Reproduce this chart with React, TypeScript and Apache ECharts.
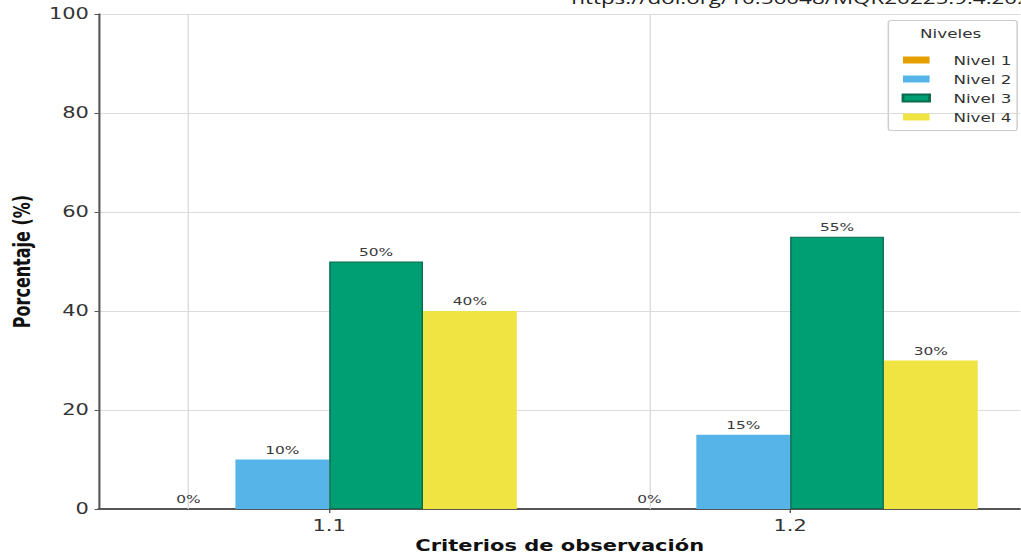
import React, { useEffect, useRef } from "react";
import * as echarts from "echarts";

const categories = ["1.1", "1.2"];
const levelNames = ["Nivel 1", "Nivel 2", "Nivel 3", "Nivel 4"];
const nivel1 = [0, 0];
const nivel2 = [10, 15];
const nivel3 = [50, 55];
const nivel4 = [40, 30];
const seriesValues = [nivel1, nivel2, nivel3, nivel4];
const colors = ["#E69F00", "#56B4E9", "#009E73", "#F0E442"];
const borderColors = ["#E69F00", "#56B4E9", "#0b6b4d", "#F0E442"];
const yTicks = { min: 0, max: 100, interval: 20 };

const FONT = "DejaVu Sans";
// the reference is stretched horizontally; draw in a narrower box and stretch it
const STRETCH = 1.4;
const W = 729;
const H = 558;

export default function App() {
  const ref = useRef<HTMLDivElement>(null);
  useEffect(() => {
    document.body.style.margin = "0";
    if (!ref.current) return;
    const chart = echarts.init(ref.current, undefined, { renderer: "svg" });
    const series: any[] = seriesValues.map((vals, i) => ({
      name: levelNames[i],
      type: "bar",
      data: vals,
      barWidth: 67,
      barGap: "0%",
      itemStyle: { color: colors[i], borderColor: borderColors[i], borderWidth: i === 2 ? 1 : 0 },
      label: {
        show: true,
        position: "top",
        distance: 4,
        formatter: "{c}%",
        fontFamily: FONT,
        fontSize: 11,
        color: "#3a3a3a",
      },
      z: 3,
    }));
    series[0].markLine = {
      silent: true,
      symbol: "none",
      label: { show: false },
      lineStyle: { color: "#dcdcdc", width: 1, type: "solid" },
      data: categories.map((c) => ({ xAxis: c })),
      z: 1,
    };
    chart.setOption({
      animation: false,
      backgroundColor: "#ffffff",
      grid: { left: 65.5, top: 14, width: 668, height: 499, containLabel: false },
      xAxis: {
        type: "category",
        data: categories,
        name: "Criterios de observación",
        nameLocation: "middle",
        nameGap: 26,
        nameTextStyle: { fontFamily: FONT, fontSize: 15, fontWeight: "bold", color: "#111" },
        axisLine: { show: true, lineStyle: { color: "#555", width: 2 } },
        axisTick: { show: true, alignWithLabel: true, length: 4, lineStyle: { color: "#555" } },
        axisLabel: { fontFamily: FONT, fontSize: 15, color: "#333", margin: 9 },
        splitLine: { show: false },
      },
      yAxis: {
        type: "value",
        min: yTicks.min,
        max: yTicks.max,
        interval: yTicks.interval,
        name: "Porcentaje (%)",
        nameLocation: "middle",
        nameGap: 43,
        nameTextStyle: { fontFamily: FONT, fontSize: 16, fontWeight: "bold", color: "#111" },
        axisLine: { show: true, lineStyle: { color: "#555", width: 1.5 } },
        axisTick: { show: true, length: 3, lineStyle: { color: "#555" } },
        axisLabel: { fontFamily: FONT, fontSize: 15, color: "#333", margin: 7 },
        splitLine: { show: true, lineStyle: { color: "#dcdcdc", width: 1 } },
      },
      legend: {
        data: levelNames,
        orient: "vertical",
        left: 639,
        top: 49,
        itemWidth: 19,
        itemHeight: 7,
        itemGap: 7,
        icon: "rect",
        textStyle: { fontFamily: FONT, fontSize: 12, color: "#333", padding: [0, 0, 0, 12] },
      },
      graphic: [
        {
          type: "rect",
          left: 634,
          top: 20,
          shape: { width: 92, height: 110, r: 2 },
          style: { fill: "rgba(255,255,255,0.85)", stroke: "#cccccc", lineWidth: 1 },
          z: 0,
        },
        {
          type: "text",
          x: 679,
          y: 27,
          style: { text: "Niveles", fontFamily: FONT, fontSize: 12, fill: "#333", align: "center" },
          z: 10,
        },
        {
          type: "text",
          x: 408,
          y: -10,
          style: {
            text: "https://doi.org/10.56048/MQR20225.9.4.2025.e1163",
            fontFamily: "Open Sans",
            fontSize: 16,
            fill: "#222",
          },
          z: 10,
        },
      ],
      series,
    });
    return () => chart.dispose();
  }, []);
  return (
    <div style={{ position: "relative", width: 1021, height: H, overflow: "hidden", margin: 0 }}>
      <div
        ref={ref}
        style={{
          position: "absolute",
          left: 0,
          top: 0,
          width: W,
          height: H,
          transform: `scaleX(${STRETCH})`,
          transformOrigin: "0 0",
        }}
      />
    </div>
  );
}
